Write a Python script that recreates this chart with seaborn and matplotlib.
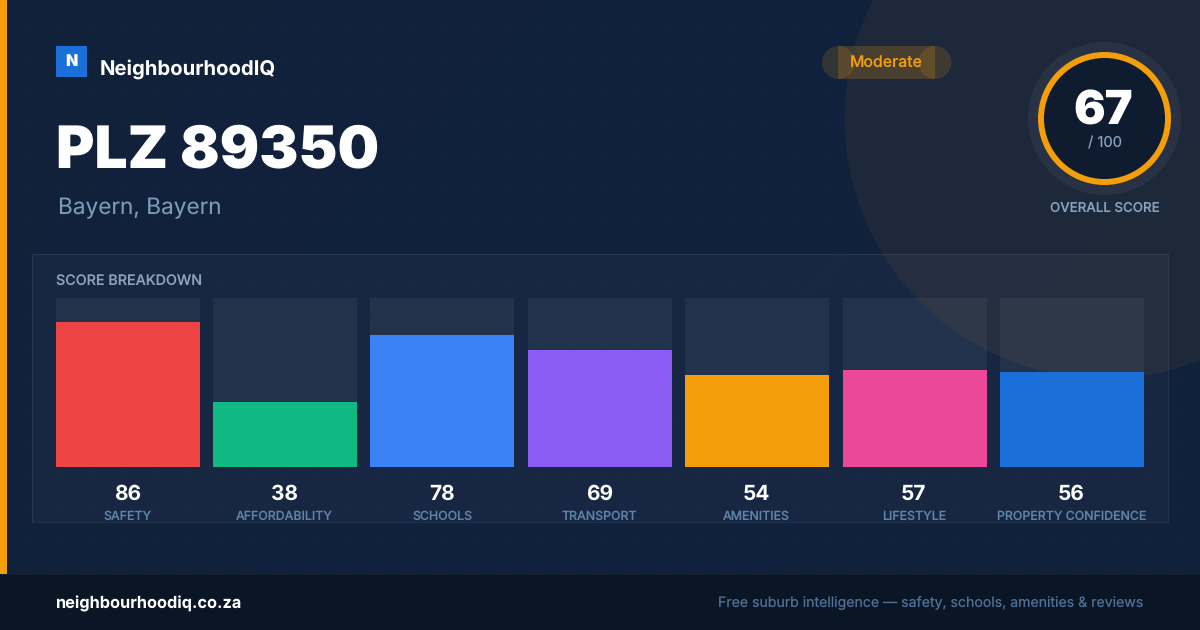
import matplotlib
matplotlib.use("Agg")
import matplotlib.pyplot as plt
import seaborn as sns
import pandas as pd
import numpy as np
from matplotlib.colors import LinearSegmentedColormap
from matplotlib.patches import Rectangle, Circle

W, H = 1200, 630
categories = ["SAFETY", "AFFORDABILITY", "SCHOOLS", "TRANSPORT", "AMENITIES", "LIFESTYLE", "PROPERTY CONFIDENCE"]
scores = [86, 38, 78, 69, 54, 57, 56]
track = [100, 100, 100, 100, 100, 100, 100]
bar_colors = ["#ef4444", "#10b981", "#3b82f6", "#8b5cf6", "#f59e0b", "#ec4899", "#1a6fd8"]
BG = "#11223c"
ORANGE = "#f59e0b"

sns.set_theme(style="white")
plt.rcParams["font.family"] = ["Inter", "DejaVu Sans"]
plt.rcParams["text.hinting"] = "no_hinting"
plt.rcParams["text.hinting_factor"] = 1

fig = plt.figure(figsize=(W / 100, H / 100), dpi=100, facecolor=BG)
bg = fig.add_axes([0, 0, 1, 1], zorder=0)
gx, gy = np.meshgrid(np.linspace(0, 1, 240), np.linspace(0, 1, 126))
cmap = LinearSegmentedColormap.from_list("page", [(0, "#12223a"), (0.6, "#10213e"), (1, "#11213b")])
bg.imshow((gx * W + gy * H) / (W + H), extent=(0, W, H, 0), cmap=cmap, vmin=0, vmax=1, aspect="auto", zorder=0)
bg.set_xlim(0, W)
bg.set_ylim(H, 0)
bg.axis("off")

# faint dot grid
dx, dy = np.meshgrid(np.arange(24, W, 32), np.arange(24, 574, 32))
bg.scatter(dx.ravel(), dy.ravel(), s=2.2, color="#ffffff", alpha=0.035, lw=0, zorder=1)

bg.add_patch(Circle((1104.5, 118.5), 260, color=ORANGE, alpha=0.06, lw=0, zorder=1))
bg.add_patch(Rectangle((32, 254), 1136, 268, facecolor="#ffffff", alpha=0.03, lw=0, zorder=1))
bg.add_patch(Rectangle((32, 254), 1136, 268, fill=False, edgecolor="#ffffff", alpha=0.08, lw=0.72, zorder=1))
bg.add_patch(Rectangle((0, 0), 7, 574, color=ORANGE, lw=0, zorder=2))
bg.add_patch(Rectangle((0, 574), W, 56, color="#0a1525", lw=0, zorder=2))
bg.add_patch(Rectangle((0, 574), W, 1, color="#ffffff", alpha=0.05, lw=0, zorder=2))
bg.add_patch(Rectangle((56, 46), 31, 31, color="#1a6fd8", lw=0, zorder=2))
# pill
bg.add_patch(Rectangle((838, 46), 97, 33, color=ORANGE, alpha=0.2, lw=0, zorder=2))
for cx in (838.5, 935):
    bg.add_patch(Circle((cx, 62.5), 16.5, color=ORANGE, alpha=0.15, lw=0, zorder=2))
# ring
bg.add_patch(Circle((1104.5, 118.5), 76.5, color="#ffffff", alpha=0.05, lw=0, zorder=2))
bg.add_patch(Circle((1104.5, 118.5), 63.5, facecolor="#0f1b2e", edgecolor=ORANGE, lw=4.3, zorder=2))


def t(x, y, s, size, color, weight="normal", ha="left"):
    bg.text(x, y, s, fontsize=size, color=color, fontweight=weight, ha=ha, va="baseline", zorder=5)


t(71.5, 66.5, "N", 11.5, "white", "black", "center")
t(100, 75, "NeighbourhoodIQ", 14.6, "white", "bold")
t(56, 168, "PLZ 89350", 42.2, "white", "black")
t(58, 214, "Bayern, Bayern", 16.3, "#7f9bbb")
t(886.5, 67, "Moderate", 11.4, ORANGE, "medium", "center")
t(1103.5, 125, "67", 33.8, "white", "black", "center")
t(1104.5, 147, "/ 100", 10.6, "#8aa3c0", "normal", "center")
t(1104.5, 212, "OVERALL SCORE", 9.6, "#8aa3c0", "medium", "center")
t(56, 285.6, "SCORE BREAKDOWN", 10.3, "#8aa3c0", "medium")
t(56, 608, "neighbourhoodiq.co.za", 11.75, "white", "bold")
t(1143.5, 607, "Free suburb intelligence \u2014 safety, schools, amenities & reviews", 10.17, "#4f7198", "normal", "right")

# bar axes: px per unit chosen so that every bar edge lands on the reference's pixel
step_px, bar_px = 157.45, 144
left_px, bottom_px, height_px = 55.55, 466.51, 168.6
bw = bar_px / step_px
ax = fig.add_axes([left_px / W, 1 - bottom_px / H, (6 * step_px + bar_px) / W, height_px / H], zorder=2)
ax.patch.set_alpha(0)
df = pd.DataFrame({"category": categories, "score": scores, "track": track})
sns.barplot(data=df, x="category", y="track", color="#ffffff", alpha=0.05, width=bw, saturation=1,
            linewidth=0, ax=ax, order=categories)
sns.barplot(data=df, x="category", y="score", hue="category", palette=bar_colors, width=bw, saturation=1,
            linewidth=0, legend=False, dodge=False, ax=ax, order=categories)
ax.set_xlim(-bw / 2, 6 + bw / 2)
ax.set_ylim(0, 100)
ax.axis("off")
for i, (c, v) in enumerate(zip(categories, scores)):
    x = 127.2 + i * 157.33
    t(x, 499.4, str(v), 15, "white", "bold", "center")
    t(x + 0.3, 520.3, c, 8.9, "#5f82a8", "medium", "center")

fig.savefig("out.png", dpi=100, facecolor=fig.get_facecolor())
